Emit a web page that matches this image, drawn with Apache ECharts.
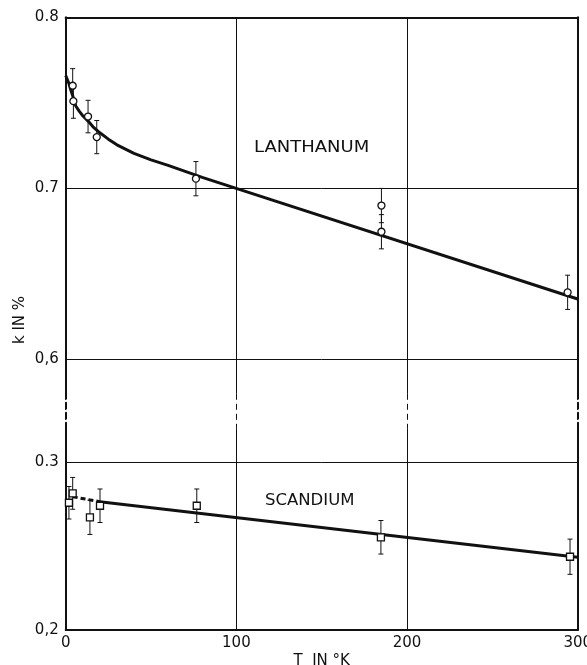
<!DOCTYPE html>
<html>
<head>
<meta charset="utf-8">
<script src="https://cdn.jsdelivr.net/npm/echarts@6/dist/echarts.min.js"></script>
<style>
html,body{margin:0;padding:0;background:#fff;}
#chart{width:587px;height:665px;}
</style>
</head>
<body>
<div id="chart"></div>
<script>
// ---- data ----
const xTickValues = [0, 100, 200, 300];
const xTickLabels = ['0', '100', '200', '300'];
const yTopTickValues = [0.6, 0.7, 0.8];
const yTopTickLabels = ['0,6', '0.7', '0.8'];
const yBottomTickValues = [0.2, 0.3];
const yBottomTickLabels = ['0,2', '0.3'];
const topGridLines = [0.7, 0.6];
const bottomGridLines = [0.3];

// Lanthanum measured points (T in K, k in %), error bars
const laT = [4.1, 4.5, 13.1, 18.2, 76.3, 185, 185, 294.1];
const laK = [0.760, 0.751, 0.742, 0.730, 0.7057, 0.690, 0.6747, 0.6393];
const laErr = [0.010, 0.010, 0.0095, 0.0097, 0.010, 0.010, 0.010, 0.010];
// Lanthanum fitted curve
const laCurveT = [0, 1, 2, 3, 4, 5, 6, 8, 10, 13, 16, 20, 25, 30, 40, 50, 60, 70, 80, 300];
const laCurveK = [0.766, 0.7635, 0.761, 0.7575, 0.7545, 0.751, 0.748, 0.745, 0.7425, 0.7395, 0.736, 0.7325, 0.7288, 0.7255, 0.7205, 0.7167, 0.7135, 0.710, 0.7065, 0.6354];

// Scandium measured points
const scT = [1.9, 4.1, 14.2, 20.1, 76.8, 184.7, 295.5];
const scK = [0.2759, 0.2815, 0.2672, 0.2741, 0.2741, 0.2553, 0.2437];
const scErr = [0.0097, 0.0095, 0.0102, 0.010, 0.010, 0.010, 0.0105];
// Scandium fitted line (dashed part, solid part)
const scDashT = [4.1, 20];
const scDashK = [0.2795, 0.2765];
const scLineT = [20, 300];
const scLineK = [0.2765, 0.2434];

// ---- build ----
const INK = '#111';
const FONT = 'DejaVu Sans';
const pairs = (xs, ys) => xs.map((x, i) => [x, ys[i]]);
const errData = (xs, ys, es) => xs.map((x, i) => [x, ys[i] - es[i], ys[i] + es[i]]);
const tickFmt = (vals, labels) => v => {
  for (let i = 0; i < vals.length; i++) if (Math.abs(v - vals[i]) < 1e-6) return labels[i];
  return '';
};
const xFmt = tickFmt(xTickValues, xTickLabels);

function errRender(params, api) {
  const x = api.value(0);
  const p1 = api.coord([x, api.value(1)]);
  const p2 = api.coord([x, api.value(2)]);
  const w = 2.5;
  const st = { stroke: INK, lineWidth: 1 };
  return {
    type: 'group',
    children: [
      { type: 'line', shape: { x1: p1[0], y1: p1[1], x2: p2[0], y2: p2[1] }, style: st },
      { type: 'line', shape: { x1: p1[0] - w, y1: p1[1], x2: p1[0] + w, y2: p1[1] }, style: st },
      { type: 'line', shape: { x1: p2[0] - w, y1: p2[1], x2: p2[0] + w, y2: p2[1] }, style: st }
    ]
  };
}

const solidFrame = { show: true, onZero: false, lineStyle: { color: INK, width: 2 } };
const dashFrame = { show: true, onZero: false, lineStyle: { color: INK, width: 2, type: [6, 4] } };
const gridLeft = 65.7, gridRight = 9.3;
const gridBase = { left: gridLeft, right: gridRight, containLabel: false, outerBoundsMode: 'none' };

const chart = echarts.init(document.getElementById('chart'));
chart.setOption({
  backgroundColor: '#fff',
  animation: false,
  grid: [
    Object.assign({ top: 17.3, height: 376.5 }, gridBase),
    Object.assign({ top: 393.8, height: 35 }, gridBase),
    Object.assign({ top: 428.8, height: 201.2 }, gridBase)
  ],
  xAxis: [
    { gridIndex: 0, type: 'value', position: 'top', min: 0, max: 300, interval: 100,
      axisLine: solidFrame, axisTick: { show: false }, axisLabel: { show: false },
      splitLine: { show: true, lineStyle: { color: INK, width: 1 } } },
    { gridIndex: 1, type: 'value', min: 0, max: 300, interval: 100,
      axisLine: { show: false }, axisTick: { show: false }, axisLabel: { show: false },
      splitLine: { show: true, lineStyle: { color: INK, width: 1, type: [6, 4] } } },
    { gridIndex: 2, type: 'value', position: 'bottom', min: 0, max: 300, interval: 100,
      axisLine: solidFrame, axisTick: { show: false },
      axisLabel: { formatter: xFmt, color: INK, fontFamily: FONT, fontSize: 15, margin: 6 },
      splitLine: { show: true, lineStyle: { color: INK, width: 1 } },
      name: 'T  IN °K', nameLocation: 'middle', nameGap: 24,
      nameTextStyle: { color: INK, fontFamily: FONT, fontSize: 15 } }
  ],
  yAxis: [
    { gridIndex: 0, type: 'value', position: 'left', min: 0.58, max: 0.8, interval: 0.02,
      axisLine: solidFrame, axisTick: { show: false }, splitLine: { show: false },
      axisLabel: { formatter: tickFmt(yTopTickValues, yTopTickLabels), color: INK, fontFamily: FONT, fontSize: 15, margin: 7 } },
    { gridIndex: 0, type: 'value', position: 'right', min: 0.58, max: 0.8, interval: 0.02,
      axisLine: solidFrame, axisTick: { show: false }, splitLine: { show: false }, axisLabel: { show: false } },
    { gridIndex: 1, type: 'value', position: 'left', min: 0, max: 1,
      axisLine: dashFrame, axisTick: { show: false }, splitLine: { show: false }, axisLabel: { show: false } },
    { gridIndex: 1, type: 'value', position: 'right', min: 0, max: 1,
      axisLine: dashFrame, axisTick: { show: false }, splitLine: { show: false }, axisLabel: { show: false } },
    { gridIndex: 2, type: 'value', position: 'left', min: 0.2, max: 0.32, interval: 0.02,
      axisLine: solidFrame, axisTick: { show: false }, splitLine: { show: false },
      axisLabel: { formatter: tickFmt(yBottomTickValues, yBottomTickLabels), color: INK, fontFamily: FONT, fontSize: 15, margin: 7 } },
    { gridIndex: 2, type: 'value', position: 'right', min: 0.2, max: 0.32, interval: 0.02,
      axisLine: solidFrame, axisTick: { show: false }, splitLine: { show: false }, axisLabel: { show: false } }
  ],
  series: [
    { name: 'La fit', type: 'line', xAxisIndex: 0, yAxisIndex: 0,
      data: pairs(laCurveT, laCurveK), smooth: false, showSymbol: false,
      lineStyle: { color: INK, width: 3, join: 'round' }, z: 2,
      markLine: { silent: true, symbol: ['none', 'none'], label: { show: false },
        lineStyle: { color: INK, width: 1, type: 'solid' },
        data: topGridLines.map(v => ({ yAxis: v })) } },
    { name: 'La err', type: 'custom', xAxisIndex: 0, yAxisIndex: 0,
      data: errData(laT, laK, laErr), renderItem: errRender, encode: { x: 0, y: [1, 2] }, z: 3 },
    { name: 'La', type: 'scatter', xAxisIndex: 0, yAxisIndex: 0,
      data: pairs(laT, laK), symbol: 'circle', symbolSize: 7,
      itemStyle: { color: '#fff', borderColor: INK, borderWidth: 1.3, opacity: 1 }, z: 4 },
    { name: 'Sc fit dashed', type: 'line', xAxisIndex: 2, yAxisIndex: 4,
      data: pairs(scDashT, scDashK), showSymbol: false,
      lineStyle: { color: INK, width: 3, type: [5, 3] }, z: 2 },
    { name: 'Sc fit', type: 'line', xAxisIndex: 2, yAxisIndex: 4,
      data: pairs(scLineT, scLineK), showSymbol: false,
      lineStyle: { color: INK, width: 3 }, z: 2,
      markLine: { silent: true, symbol: ['none', 'none'], label: { show: false },
        lineStyle: { color: INK, width: 1, type: 'solid' },
        data: bottomGridLines.map(v => ({ yAxis: v })) } },
    { name: 'Sc err', type: 'custom', xAxisIndex: 2, yAxisIndex: 4,
      data: errData(scT, scK, scErr), renderItem: errRender, encode: { x: 0, y: [1, 2] }, z: 3 },
    { name: 'Sc', type: 'scatter', xAxisIndex: 2, yAxisIndex: 4,
      data: pairs(scT, scK), symbol: 'rect', symbolSize: 7,
      itemStyle: { color: '#fff', borderColor: INK, borderWidth: 1.3, opacity: 1 }, z: 4 }
  ],
  graphic: [
    { type: 'text', x: 254, y: 148, scaleX: 1.2, z: 10,
      style: { text: 'LANTHANUM', fontFamily: FONT, fontSize: 15, fill: INK, verticalAlign: 'middle', align: 'left' } },
    { type: 'text', x: 265, y: 501, scaleX: 1.1, z: 10,
      style: { text: 'SCANDIUM', fontFamily: FONT, fontSize: 15, fill: INK, verticalAlign: 'middle', align: 'left' } },
    { type: 'text', x: 20, y: 320, rotation: Math.PI / 2, z: 10,
      style: { text: 'k IN %', fontFamily: FONT, fontSize: 15, fill: INK, verticalAlign: 'middle', align: 'center' } }
  ]
});
</script>
</body>
</html>
